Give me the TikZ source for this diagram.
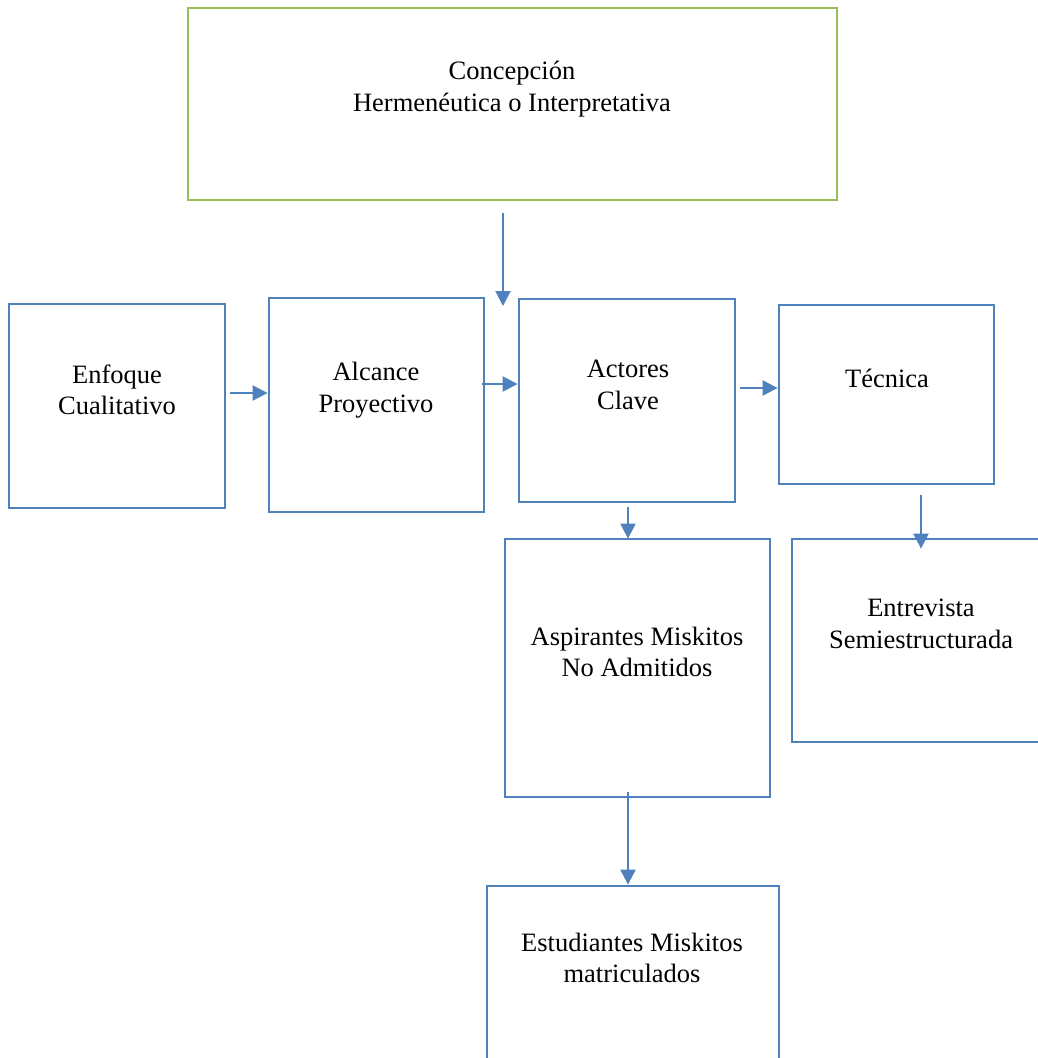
\documentclass[tikz,border=0pt]{standalone}
\usepackage{fontspec}
\setmainfont{Liberation Serif}
\usetikzlibrary{arrows.meta}
\definecolor{boxblue}{HTML}{4F81BD}
\definecolor{boxgreen}{HTML}{9BBB59}
\tikzset{
  box/.style={draw=boxblue, line width=2.8pt, rectangle, inner sep=0pt},
  gbox/.style={draw=boxgreen, line width=2.8pt, rectangle, inner sep=0pt},
  lbl/.style={align=center, inner sep=0pt, font=\fontsize{26.5}{31.5}\selectfont},
  arr/.style={draw=boxblue, line width=2pt, -{Triangle[width=15pt,length=15pt]}}
}
\begin{document}
\begin{tikzpicture}[x=1pt,y=-1pt]
\clip (0,0) rectangle (1038,1058);
\fill[white] (0,0) rectangle (1038,1058);
% boxes
\node[gbox, minimum width=649pt, minimum height=192pt] (top) at (512.5,104) {};
\node[box, minimum width=216pt, minimum height=204pt] (enf) at (117,406) {};
\node[box, minimum width=215pt, minimum height=214pt] (alc) at (376.5,405) {};
\node[box, minimum width=216pt, minimum height=203pt] (act) at (627,400.5) {};
\node[box, minimum width=215pt, minimum height=179pt] (tec) at (886.5,394.5) {};
\node[box, minimum width=265pt, minimum height=258pt] (asp) at (637.5,668) {};
\node[box, minimum width=260pt, minimum height=203pt] (ent) at (922,640.5) {};
\node[box, minimum width=292pt, minimum height=200pt] (est) at (633,986) {};
% labels
\node[lbl] (ltop) at (512,89) {Concepción\\Hermenéutica o Interpretativa};
\node[lbl] (lenf) at (117,390) {Enfoque\\Cualitativo};
\node[lbl] (lalc) at (376,390) {Alcance\\Proyectivo};
\node[lbl] (lact) at (628,385) {Actores\\Clave};
\node[lbl] (ltec) at (887,378) {Técnica};
\node[lbl] (lasp) at (637,652) {Aspirantes Miskitos\\No Admitidos};
\node[lbl] (lent) at (921,624) {Entrevista\\Semiestructurada};
\node[lbl] (lest) at (632,958) {Estudiantes Miskitos\\matriculados};
% connectors
\coordinate (tA) at (503,306);
\draw[arr] ([yshift=-12pt]top.south -| tA) -- (tA);
\draw[arr] ([xshift=4pt]enf.east |- 0,393) -- (alc.west |- 0,393);
\draw[arr] ([xshift=-3pt]alc.east |- 0,384) -- (act.west |- 0,384);
\draw[arr] ([xshift=4pt]act.east |- 0,388) -- (tec.west |- 0,388);
\draw[arr] ([yshift=-4pt]act.south -| 628,0) -- ([yshift=-1pt]asp.north -| 628,0);
\draw[arr] ([yshift=-10pt]tec.south -| 921,0) -- ([yshift=-11pt]ent.north -| 921,0);
\draw[arr] ([yshift=6pt]asp.south -| 628,0) -- (est.north -| 628,0);
\end{tikzpicture}
\end{document}
